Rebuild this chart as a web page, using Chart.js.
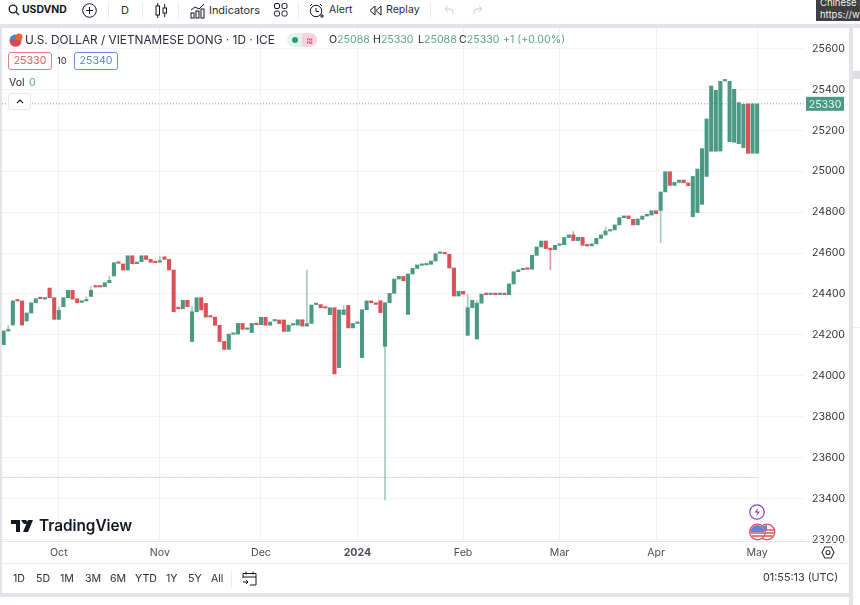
<!DOCTYPE html>
<html>
<head>
<meta charset="utf-8">
<title>USDVND</title>
<script src="https://cdn.jsdelivr.net/npm/chart.js@4"></script>
<style>
html, body { margin: 0; padding: 0; background: #fff; }
body { width: 860px; height: 605px; position: relative; overflow: hidden; font-family: Inter, "Noto Sans", sans-serif; color: #2a2e39; }
#wrap { position: absolute; left: 2px; top: 28px; width: 846px; height: 535px; }
.t { position: absolute; white-space: nowrap; line-height: 14px; font-size: 10.6px; }
.bar { position: absolute; background: #e3e4e9; }
.sep { position: absolute; background: #e9eaee; width: 1px; }
svg { position: absolute; overflow: visible; }
.box { position: absolute; border-radius: 3px; box-sizing: border-box; text-align: center; font-size: 10.6px; line-height: 16px; height: 18px; top: 52px; width: 44px; background: #fff; }
.g { color: #5ba590; }
</style>
</head>
<body>
<div id="wrap"><canvas id="myChart"></canvas></div>

<!-- panel gutters -->
<div class="bar" style="left:0;top:24px;width:860px;height:4px"></div>
<div class="bar" style="left:0;top:593px;width:852px;height:4px"></div>
<div class="bar" style="left:849px;top:24px;width:4px;height:581px"></div>
<div class="bar" style="left:0;top:24px;width:2px;height:573px"></div>
<div class="bar" style="left:853px;top:71px;width:7px;height:8px;background:#dcdde2"></div>
<div class="bar" style="left:853px;top:327px;width:7px;height:1px;background:#eeeff2"></div>
<div class="sep" style="left:2px;top:541px;width:847px;height:1px"></div>
<div class="sep" style="left:2px;top:563px;width:847px;height:1px"></div>

<!-- top toolbar -->
<svg style="left:8px;top:4px" width="12" height="12" fill="none" stroke="#131722" stroke-width="1.3"><circle cx="5" cy="5" r="3.8"/><path d="M8 8l3 3"/></svg>
<span class="t" style="left:22px;top:3px;font-weight:700;font-size:10.4px;color:#131722">USDVND</span>
<svg style="left:82px;top:3px" width="15" height="15" fill="none" stroke="#131722" stroke-width="1"><circle cx="7.5" cy="7.5" r="6.8"/><path d="M7.5 4v7M4 7.5h7"/></svg>
<div class="sep" style="left:108px;top:2px;height:17px"></div>
<span class="t" style="left:121px;top:3px;font-size:11px;color:#333">D</span>
<div class="sep" style="left:142px;top:2px;height:17px"></div>
<svg style="left:155px;top:2px" width="13" height="17" fill="none" stroke="#131722" stroke-width="1"><rect x="1" y="4" width="3.5" height="9"/><rect x="8" y="6" width="3.5" height="5"/><path d="M2.7 1v3M2.7 13v3M9.7 2v4M9.7 11v4"/></svg>
<div class="sep" style="left:178px;top:2px;height:17px"></div>
<svg style="left:190px;top:3px" width="15" height="15" fill="none" stroke="#131722" stroke-width="1"><path d="M1 7l4-3 4 2 5-5"/><rect x="1" y="10" width="3" height="5"/><rect x="6" y="8" width="3" height="7"/><rect x="11" y="6" width="3" height="9"/></svg>
<span class="t" style="left:209px;top:3px;font-size:10.9px">Indicators</span>
<svg style="left:274px;top:3px" width="14" height="14" fill="none" stroke="#131722" stroke-width="1"><rect x=".5" y=".5" width="5" height="5" rx="1.5"/><rect x="8" y=".5" width="5" height="5" rx="1.5"/><rect x=".5" y="8" width="5" height="5" rx="1.5"/><rect x="8" y="8" width="5" height="5" rx="1.5"/></svg>
<div class="sep" style="left:298px;top:2px;height:17px"></div>
<svg style="left:309px;top:3px" width="15" height="16" fill="none" stroke="#131722" stroke-width="1"><circle cx="7" cy="8" r="5.7"/><path d="M7 5v3.5h3M1 3l2-2M13 3l-2-2M11 13h4M13 11v4"/></svg>
<span class="t" style="left:329px;top:3px;font-size:10.5px">Alert</span>
<svg style="left:369px;top:5px" width="13" height="11" fill="none" stroke="#131722" stroke-width="1"><path d="M6 1L1 5.5 6 10zM12 1L7 5.5 12 10z"/></svg>
<span class="t" style="left:386px;top:3px;font-size:10.6px">Replay</span>
<div class="sep" style="left:430px;top:2px;height:17px"></div>
<svg style="left:444px;top:5px" width="10" height="9" fill="none" stroke="#c9cbd2" stroke-width="1"><path d="M4 1L1 4l3 3M1 4h5a3 3 0 013 3v2"/></svg>
<svg style="left:473px;top:5px" width="10" height="9" fill="none" stroke="#c9cbd2" stroke-width="1"><path d="M6 1l3 3-3 3M9 4H4a3 3 0 00-3 3v2"/></svg>

<!-- tooltip corner -->
<div style="position:absolute;left:816px;top:0;width:44px;height:21px;background:#3f3f3f;overflow:hidden">
  <span class="t" style="left:4px;top:-3px;color:#eee;font-size:9.5px;line-height:12px">Chinese N<br>https://www.</span>
</div>

<!-- legend -->
<svg style="left:8px;top:33px" width="15" height="15"><circle cx="7.5" cy="7.5" r="6" fill="#4f7fd0"/><path d="M2 7h11v3a6 6 0 01-11 0z" fill="#d9484f"/><circle cx="11" cy="4" r="3.5" fill="#e8642c"/></svg>
<span class="t" style="left:25px;top:33px;font-size:11.8px;color:#2a2e39">U.S. DOLLAR / VIETNAMESE DONG · 1D · ICE</span>
<div style="position:absolute;left:287px;top:33px;width:15px;height:14px;background:#e3f2ec;border-radius:7px 0 0 7px"></div>
<div style="position:absolute;left:302px;top:33px;width:15px;height:14px;background:#f8d3de;border-radius:0 7px 7px 0"></div>
<div style="position:absolute;left:292px;top:37px;width:6px;height:6px;background:#2f9a78;border-radius:3px"></div>
<span class="t" style="left:306px;top:33px;color:#d9487a;font-size:11px">≈</span>
<span class="t" style="left:329px;top:33px">O<span class="g">25088</span></span>
<span class="t" style="left:373px;top:33px">H<span class="g">25330</span></span>
<span class="t" style="left:418px;top:33px">L<span class="g">25088</span></span>
<span class="t" style="left:459px;top:33px">C<span class="g">25330</span></span>
<span class="t g" style="left:503px;top:33px">+1 (+0.00%)</span>
<div class="box" style="left:8px;border:1px solid #dc7f84;color:#d2656b">25330</div>
<span class="t" style="left:57px;top:54px;font-size:9.5px">10</span>
<div class="box" style="left:74px;border:1px solid #6c8fd6;color:#5f7fc8">25340</div>
<span class="t" style="left:9px;top:76px">Vol</span>
<span class="t g" style="left:29px;top:76px">0</span>
<div style="position:absolute;left:8px;top:93px;width:23px;height:17px;background:#fff;border:1px solid #e6e7eb;border-radius:3px;box-sizing:border-box"></div>
<svg style="left:16px;top:99px" width="8" height="5" fill="none" stroke="#131722" stroke-width="1.1"><path d="M1 4l3-3 3 3"/></svg>

<!-- logo -->
<svg style="left:11px;top:519px" width="23" height="14" fill="#131722"><path d="M0 1h9v12H5V5H0zM10 1h5a2.2 2.2 0 11-3 3zM17 1h5l-5 12h-5z"/></svg>
<span class="t" style="left:39px;top:518px;font-size:15.3px;line-height:16px;font-weight:600;color:#131722">TradingView</span>

<!-- event marks -->
<svg style="left:749px;top:504px" width="16" height="16" fill="none"><circle cx="8" cy="8" r="7.2" stroke="#8a3fb0" stroke-width="1.2" fill="#fff"/><path d="M9.5 3.5L5.5 8.5h3L7 12.5l4-5H8z" fill="#8a3fb0"/></svg>
<svg style="left:749px;top:523px" width="27" height="18"><circle cx="18" cy="9" r="7.8" fill="#fff" stroke="#d9535a" stroke-width="1.3"/><path d="M11 7h14M11 10h14M12 13h12" stroke="#d9535a" stroke-width="1.3"/><path d="M18 2a7 7 0 00-6 5h6z" fill="#5a86d4"/><circle cx="8.5" cy="9" r="7.8" fill="#fff" stroke="#d9535a" stroke-width="1.3"/><path d="M1.5 10h14M2.5 13h12" stroke="#d9535a" stroke-width="1.3"/><path d="M8.5 2a7 7 0 00-7 7h14a7 7 0 00-7-7z" fill="#5a86d4"/></svg>

<!-- bottom bar -->
<span class="t" style="left:13px;top:572px">1D</span>
<span class="t" style="left:36px;top:572px">5D</span>
<span class="t" style="left:60px;top:572px">1M</span>
<span class="t" style="left:85px;top:572px">3M</span>
<span class="t" style="left:110px;top:572px">6M</span>
<span class="t" style="left:135px;top:572px">YTD</span>
<span class="t" style="left:166px;top:572px">1Y</span>
<span class="t" style="left:188px;top:572px">5Y</span>
<span class="t" style="left:211px;top:572px">All</span>
<div class="sep" style="left:231px;top:570px;height:17px"></div>
<svg style="left:242px;top:571px" width="15" height="15" fill="none" stroke="#131722" stroke-width="1"><path d="M1 7V2.5h13V14H8M1 6h13M4 .5v3M11 .5v3M1 11h5M4 9l2 2-2 2"/></svg>
<span class="t" style="left:763px;top:571px;font-size:10.8px;color:#333">01:55:13 (UTC)</span>
<svg style="left:821px;top:546px" width="14" height="13" fill="none" stroke="#333" stroke-width="1.1"><path d="M3.8 1h6.4L13 6.5 10.2 12H3.8L1 6.5z"/><circle cx="7" cy="6.5" r="2"/></svg>

<script>
// candle bodies, one value per trading day
const opens = [24152,24219,24248,24369,24366,24268,24307,24357,24380,24375,24429,24382,24276,24338,24382,24418,24377,24359,24366,24388,
  24436,24436,24436,24455,24488,24555,24547,24517,24587,24548,24558,24587,24569,24556,24556,24582,24569,24517,24333,24328,
  24369,24168,24313,24382,24354,24291,24287,24247,24168,24129,24203,24204,24256,24227,24211,24256,24250,24286,24247,24268,
  24273,24273,24217,24248,24248,24274,24243,24256,24348,24348,24335,24299,24333,24040,24299,24344,24234,24256,24089,24323,
  24366,24357,24367,24144,24357,24403,24473,24486,24300,24498,24525,24540,24542,24545,24561,24599,24602,24594,24527,24390,
  24413,24198,24333,24180,24355,24400,24397,24400,24397,24400,24397,24449,24509,24518,24524,24521,24589,24630,24659,24622,
  24617,24638,24641,24676,24689,24661,24677,24638,24635,24645,24672,24689,24708,24713,24738,24773,24782,24765,24738,24765,
  24781,24786,24807,24809,24899,24998,24931,24946,24957,24943,24778,24798,24838,24975,25098,25098,25099,25442,25145,25142,
  25135,25116,25330,25088,25088];
const closes = [24219,24225,24366,24366,24248,24307,24357,24377,24377,24382,24382,24276,24320,24382,24418,24375,24357,24367,24370,24418,
  24434,24434,24455,24467,24553,24550,24517,24587,24548,24556,24587,24569,24555,24553,24561,24569,24517,24313,24328,24369,
  24338,24313,24382,24322,24287,24287,24247,24168,24129,24204,24206,24256,24227,24230,24256,24250,24286,24247,24263,24273,
  24255,24217,24248,24251,24274,24243,24255,24346,24351,24333,24331,24333,24009,24322,24322,24234,24256,24260,24323,24366,
  24357,24349,24309,24357,24403,24473,24486,24465,24498,24525,24542,24545,24545,24561,24597,24602,24596,24527,24390,24413,
  24399,24333,24369,24355,24399,24397,24400,24397,24400,24397,24449,24509,24518,24522,24521,24589,24630,24659,24622,24617,
  24638,24641,24676,24689,24661,24677,24638,24635,24645,24672,24689,24708,24715,24738,24773,24782,24769,24738,24767,24781,
  24790,24807,24793,24899,24998,24931,24946,24957,24944,24930,24975,25011,25111,25256,25417,25396,25440,25445,25440,25401,
  25336,25328,25088,25330,25330];

// only the days with a visible wick
const wickDays = [1,12,18,19,23,34,41,66,74,83,101,103,119,124,131,143];
const wickLows = [24219,24276,24366,24388,24455,24556,24168,24243,24299,23393,24198,24180,24519,24661,24689,24650];
const wickHighs = [24247,24336,24385,24436,24488,24584,24338,24517,24344,24357,24399,24369,24617,24705,24728,24809];

const monthDays = [12,34,56,77,100,121,142,164];
const monthNames = ['Oct','Nov','Dec','2024','Feb','Mar','Apr','May'];
const priceTicks = [23200,23400,23600,23800,24000,24200,24400,24600,24800,25000,25200,25400,25600];
const lastPrice = 25330;
const floorPrice = 23503;

const green = '#4a9a83';
const red = '#dc5058';
const xMin = -0.363, xMax = 174.2;

const priceTag = {
  id: 'priceTag',
  afterDraw(chart) {
    const c = chart.ctx, y = chart.scales.y.getPixelForValue(lastPrice), left = chart.scales.y.left + 2;
    c.save();
    c.fillStyle = green;
    c.fillRect(left, y - 7, 38, 14);
    c.fillStyle = 'rgba(255,255,255,0.9)';
    c.font = '10.6px Inter';
    c.textAlign = 'center';
    c.textBaseline = 'middle';
    c.fillText(String(lastPrice), left + 19, y + 0.5);
    c.restore();
  }
};

const ctx = document.getElementById('myChart');
const myChart = new Chart(ctx, {
  type: 'bar',
  data: {
    datasets: [
      {
        type: 'line', data: [{x: xMin, y: lastPrice}, {x: xMax, y: lastPrice}],
        borderColor: 'rgba(74,154,131,0.8)', borderWidth: 1, borderDash: [1, 2], pointRadius: 0, order: 5
      },
      {
        type: 'line', data: [{x: xMin, y: floorPrice}, {x: 164.5, y: floorPrice}],
        borderColor: '#f8d7d8', borderWidth: 1, borderDash: [8, 8], pointRadius: 0, order: 5
      },
      {
        type: 'line', data: [{x: xMin, y: floorPrice}, {x: 164.5, y: floorPrice}],
        borderColor: '#c6e5dd', borderWidth: 1, borderDash: [8, 8], borderDashOffset: 8, pointRadius: 0, order: 5
      },
      {
        data: wickDays.map(function (d, i) { return {x: d, y: [wickLows[i], wickHighs[i]]}; }),
        barThickness: 1, order: 3,
        backgroundColor: function (c) {
          const d = wickDays[c.dataIndex];
          return closes[d] >= opens[d] ? 'rgba(74,154,131,0.5)' : 'rgba(220,80,88,0.6)';
        }
      },
      {
        data: opens.map(function (o, i) { return {x: i, y: [o, closes[i]]}; }),
        barThickness: 3.4, minBarLength: 1.5, order: 1,
        backgroundColor: function (c) {
          return closes[c.dataIndex] >= opens[c.dataIndex] ? green : red;
        }
      }
    ]
  },
  options: {
    responsive: true,
    maintainAspectRatio: false,
    animation: false,
    grouped: false,
    layout: { padding: 0 },
    plugins: { legend: { display: false }, tooltip: { enabled: false } },
    scales: {
      x: {
        type: 'linear', min: xMin, max: xMax, offset: false,
        afterBuildTicks: function (s) { s.ticks = monthDays.map(function (v) { return {value: v}; }); },
        afterFit: function (s) { s.height = 22; s.paddingLeft = 0; s.paddingRight = 0; },
        grid: { color: '#f2f3f6', drawTicks: false, offset: false },
        border: { display: false },
        ticks: {
          autoSkip: false, maxRotation: 0, padding: 5, color: '#4a4d55',
          font: function (c) {
            const bold = c.tick && monthNames[monthDays.indexOf(c.tick.value)] === '2024';
            return { family: 'Inter', size: 10.6, weight: bold ? 'bold' : 'normal' };
          },
          callback: function (v) { return monthNames[monthDays.indexOf(v)]; }
        }
      },
      y: {
        position: 'right', min: 23192, max: 25700.8,
        afterBuildTicks: function (s) { s.ticks = priceTicks.map(function (v) { return {value: v}; }); },
        afterFit: function (s) { s.width = 44; s.paddingTop = 0; s.paddingBottom = 0; },
        grid: { color: '#f2f3f6', drawTicks: false },
        border: { display: false },
        ticks: {
          padding: 8, color: '#333', font: { family: 'Inter', size: 10.6 },
          callback: function (v) { return String(v); }
        }
      }
    }
  },
  plugins: [priceTag]
});
</script>
</body>
</html>
